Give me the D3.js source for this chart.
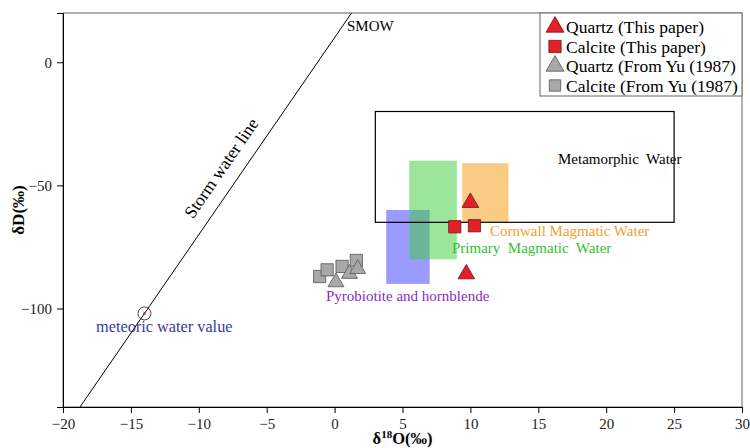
<!DOCTYPE html>
<html><head><meta charset="utf-8">
<script src="https://cdn.jsdelivr.net/npm/d3@7"></script>
<style>
body{margin:0;background:#fff;}
text{font-family:"Liberation Serif","Times New Roman",serif;}
</style></head>
<body><svg id="c" width="750" height="448"></svg>
<script>
// ---- data ----
const xTicks = [-20,-15,-10,-5,0,5,10,15,20,25,30];
const yTicks = [0,-50,-100];
const quartzThis = [[10.0,-57],[9.7,-86]];
const calciteThis = [[8.85,-66.8],[10.3,-66.4]];
const quartzYu = [[0.1,-89.3],[1.1,-85.9],[1.7,-83.9]];
const calciteYu = [[-1.1,-87],[-0.55,-84.3],[0.55,-82.9],[1.6,-80.5]];
const meteoric = [-14,-102];
const regionNames = ["Pyrobiotite and hornblende","Primary  Magmatic  Water","Cornwall Magmatic Water"];
const regionX0 = [3.8,5.5,9.4];
const regionX1 = [7.0,9.0,12.8];
const regionY0 = [-60,-40,-41];
const regionY1 = [-90,-80,-65];
const metaBox = [3,25,-20,-65];
const legendLabels = ["Quartz (This paper)","Calcite (This paper)","Quartz (From Yu (1987)","Calcite (From Yu (1987)"];

const svg = d3.select("#c");
const L=63,R=742,T=13,B=407;
const x = d3.scaleLinear().domain([-20,30]).range([L,R]);
const y = d3.scaleLinear().domain([-140,20]).range([B,T]);

// frame
svg.append("rect").attr("x",L).attr("y",T).attr("width",R-L).attr("height",B-T)
  .attr("fill","none").attr("stroke","#666").attr("stroke-width",1);

// clip
svg.append("clipPath").attr("id","clip").append("rect").attr("x",L).attr("y",T).attr("width",R-L).attr("height",B-T);
const g = svg.append("g").attr("clip-path","url(#clip)");

// regions
const fills = ["#5c5cff","#3fd03f","#f7a830"];
const ops = [0.62,0.52,0.6];
[0,1,2].forEach(i=>{
  g.append("rect").attr("x",x(regionX0[i])).attr("y",y(regionY0[i]))
   .attr("width",x(regionX1[i])-x(regionX0[i])).attr("height",y(regionY1[i])-y(regionY0[i]))
   .attr("fill",fills[i]).attr("fill-opacity",ops[i]);
});
// metamorphic box
g.append("rect").attr("x",x(metaBox[0])).attr("y",y(metaBox[2]))
 .attr("width",x(metaBox[1])-x(metaBox[0])).attr("height",y(metaBox[3])-y(metaBox[2]))
 .attr("fill","none").attr("stroke","#000").attr("stroke-width",1.2);

// storm water line dD = 8 d18O + 10
const lineX = [-18.75,1.25];
g.append("line").attr("x1",x(lineX[0])).attr("y1",y(8*lineX[0]+10))
 .attr("x2",x(lineX[1])).attr("y2",y(8*lineX[1]+10)).attr("stroke","#000").attr("stroke-width",1);

// meteoric circle
g.append("circle").attr("cx",x(meteoric[0])).attr("cy",y(meteoric[1])).attr("r",6.5)
 .attr("fill","none").attr("stroke","#333").attr("stroke-width",0.9);
g.append("circle").attr("cx",x(meteoric[0])).attr("cy",y(meteoric[1])).attr("r",1.3).attr("fill","#e02020");

// points
const tri = d3.symbol().type(d3.symbolTriangle);
const sq = d3.symbol().type(d3.symbolSquare);
function pts(data,sym,size,fill,stroke){
  g.selectAll(null).data(data).enter().append("path")
   .attr("d",sym.size(size)())
   .attr("transform",d=>`translate(${x(d[0])},${y(d[1])})`)
   .attr("fill",fill).attr("stroke",stroke).attr("stroke-width",0.8);
}
pts(calciteYu,sq,150,"#a8a8a8","#555");
pts(quartzYu,tri,110,"#a8a8a8","#555");
pts(calciteThis,sq,150,"#e0202a","#7a1010");
pts(quartzThis,tri,120,"#e0202a","#7a1010");

// axes
const xa = svg.append("g").attr("transform",`translate(0,${B})`)
  .call(d3.axisBottom(x).tickValues(xTicks).tickSize(6).tickPadding(5));
const ya = svg.append("g").attr("transform",`translate(${L},0)`)
  .call(d3.axisLeft(y).tickValues(yTicks).tickSize(6).tickPadding(5));
[xa,ya].forEach(a=>{
  a.attr("font-family","Liberation Serif").attr("font-size",15);
  a.selectAll("text").style("font-family","'Liberation Serif', serif").attr("font-size",15).attr("fill","#222");
  a.select(".domain").attr("stroke","#000");
  a.selectAll(".tick line").attr("stroke","#000");
});

// axis titles
const xt = svg.append("text").attr("x",(L+R)/2).attr("y",444).attr("text-anchor","middle")
  .attr("font-weight","bold").attr("font-size",16.5);
xt.append("tspan").text("δ");
xt.append("tspan").text("18").attr("font-size",11).attr("dy",-6);
xt.append("tspan").text("O(‰)").attr("dy",6);
svg.append("text").attr("transform",`translate(24,${(T+B)/2}) rotate(-90)`).attr("text-anchor","middle")
  .attr("font-weight","bold").attr("font-size",17).text("δD(‰)");

// annotations
svg.append("text").attr("x",347).attr("y",31).attr("font-size",15).text("SMOW");
const ang = Math.atan((y(0)-y(8))/(x(1)-x(0)))*180/Math.PI;
svg.append("text").attr("transform",`translate(221,168) rotate(${-ang})`)
  .attr("text-anchor","middle").attr("dy","0.35em").attr("font-size",17.5).text("Storm water line");
svg.append("text").attr("x",558).attr("y",164).attr("font-size",15).style("white-space","pre").text("Metamorphic  Water");
svg.append("text").attr("x",490).attr("y",236).attr("font-size",15).attr("fill","#f0a030").text(regionNames[2]);
svg.append("text").attr("x",452).attr("y",253).attr("font-size",15).attr("fill","#33c033").style("white-space","pre").text(regionNames[1]);
svg.append("text").attr("x",326).attr("y",301).attr("font-size",15).attr("fill","#8a2cc0").text(regionNames[0]);
svg.append("text").attr("x",96).attr("y",332).attr("font-size",16.3).attr("fill","#3a3a96").text("meteoric water value");

// legend
svg.append("rect").attr("x",540).attr("y",T).attr("width",R-540).attr("height",96-T)
  .attr("fill","#fff").attr("stroke","#666");
const legSym = [[tri,140,"#e0202a","#7a1010"],[sq,150,"#e0202a","#7a1010"],[tri,140,"#a8a8a8","#555"],[sq,130,"#a8a8a8","#555"]];
legendLabels.forEach((t,i)=>{
  const cy = 27 + i*19.5;
  const s = legSym[i];
  svg.append("path").attr("d",s[0].size(s[1])()).attr("transform",`translate(555,${cy})`)
    .attr("fill",s[2]).attr("stroke",s[3]).attr("stroke-width",0.8);
  svg.append("text").attr("x",566).attr("y",cy).attr("dy","0.35em").attr("font-size",17.5).text(t);
});
</script></body></html>
